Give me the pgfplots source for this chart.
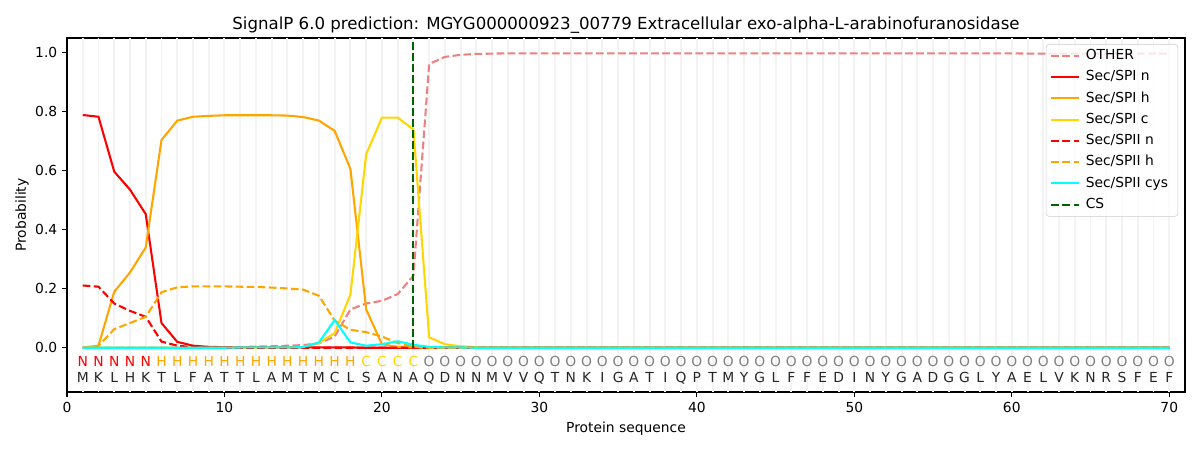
\documentclass[border=0pt]{standalone}
\usepackage{pgfplots}
\pgfplotsset{compat=1.18}
\usepackage{pgfplotstable}
\usepackage{fontspec}
\setmainfont{DejaVu Sans}
\definecolor{cother}{HTML}{F08080}
\definecolor{corange}{HTML}{FFA500}
\definecolor{cgold}{HTML}{FFD700}
\definecolor{ccyan}{HTML}{00FFFF}
\definecolor{cgreen}{HTML}{006400}
\definecolor{labN}{HTML}{FF0000}
\definecolor{labH}{HTML}{FFA500}
\definecolor{labC}{HTML}{FFD700}
\definecolor{labO}{HTML}{808080}
\definecolor{gridc}{HTML}{F3F3F3}
\pgfplotstableread{
x other spin spih spic spiin spiih cys
1 0.000 0.789 0.000 0.000 0.211 0.000 0.000
2 0.000 0.783 0.007 0.000 0.207 0.007 0.000
3 0.000 0.597 0.190 0.000 0.150 0.063 0.000
4 0.000 0.536 0.255 0.000 0.125 0.084 0.000
5 0.000 0.453 0.340 0.000 0.105 0.105 0.000
6 0.000 0.084 0.704 0.000 0.021 0.188 0.000
7 0.000 0.020 0.770 0.000 0.007 0.205 0.000
8 0.001 0.007 0.783 0.000 0.002 0.208 0.000
9 0.001 0.003 0.786 0.000 0.001 0.208 0.000
10 0.001 0.002 0.788 0.000 0.000 0.208 0.000
11 0.002 0.001 0.788 0.000 0.000 0.207 0.001
12 0.004 0.001 0.788 0.000 0.000 0.206 0.001
13 0.005 0.001 0.788 0.001 0.000 0.204 0.001
14 0.007 0.001 0.787 0.001 0.000 0.201 0.001
15 0.009 0.001 0.782 0.003 0.000 0.197 0.002
16 0.015 0.001 0.770 0.016 0.000 0.176 0.018
17 0.038 0.001 0.735 0.050 0.000 0.092 0.094
18 0.130 0.001 0.606 0.180 0.000 0.061 0.018
19 0.150 0.000 0.130 0.656 0.000 0.053 0.007
20 0.159 0.000 0.012 0.780 0.000 0.038 0.012
21 0.182 0.000 0.003 0.780 0.000 0.016 0.022
22 0.244 0.000 0.001 0.740 0.000 0.003 0.010
23 0.962 0.000 0.000 0.035 0.000 0.000 0.003
24 0.986 0.000 0.000 0.012 0.000 0.000 0.001
25 0.993 0.000 0.000 0.005 0.000 0.000 0.001
26 0.996 0.000 0.000 0.002 0.000 0.000 0.000
27 0.997 0 0 0 0 0 0
28 0.998 0 0 0 0 0 0
29 0.998 0 0 0 0 0 0
30 0.998 0 0 0 0 0 0
31 0.998 0 0 0 0 0 0
32 0.998 0 0 0 0 0 0
33 0.998 0 0 0 0 0 0
34 0.998 0 0 0 0 0 0
35 0.998 0 0 0 0 0 0
36 0.998 0 0 0 0 0 0
37 0.998 0 0 0 0 0 0
38 0.998 0 0 0 0 0 0
39 0.998 0 0 0 0 0 0
40 0.998 0 0 0 0 0 0
41 0.998 0 0 0 0 0 0
42 0.998 0 0 0 0 0 0
43 0.998 0 0 0 0 0 0
44 0.998 0 0 0 0 0 0
45 0.998 0 0 0 0 0 0
46 0.998 0 0 0 0 0 0
47 0.998 0 0 0 0 0 0
48 0.998 0 0 0 0 0 0
49 0.998 0 0 0 0 0 0
50 0.998 0 0 0 0 0 0
51 0.998 0 0 0 0 0 0
52 0.998 0 0 0 0 0 0
53 0.998 0 0 0 0 0 0
54 0.998 0 0 0 0 0 0
55 0.998 0 0 0 0 0 0
56 0.998 0 0 0 0 0 0
57 0.998 0 0 0 0 0 0
58 0.998 0 0 0 0 0 0
59 0.998 0 0 0 0 0 0
60 0.998 0 0 0 0 0 0
61 0.997 0 0 0 0 0 0
62 0.997 0 0 0 0 0 0
63 0.997 0 0 0 0 0 0
64 0.997 0 0 0 0 0 0
65 0.997 0 0 0 0 0 0
66 0.997 0 0 0 0 0 0
67 0.997 0 0 0 0 0 0
68 0.997 0 0 0 0 0 0
69 0.997 0 0 0 0 0 0
70 0.997 0 0 0 0 0 0
}\sigdata
\begin{document}
\begin{tikzpicture}
\path[use as bounding box] (-48.24bp,-41.76bp) rectangle (815.76bp,282.24bp);
\begin{axis}[
  at={(0,0)}, anchor=south west,
  scale only axis, width=804.96bp, height=254.88bp,
  xmin=0, xmax=71, ymin=-0.15, ymax=1.05,
  xtick={0,10,...,70},
  ytick={0,0.2,0.4,0.6,0.8,1.0},
  yticklabel style={/pgf/number format/.cd, fixed, fixed zerofill, precision=1},
  /pgf/number format/assume math mode=true,
  tick label style={font=\fontsize{10}{12}\selectfont},
  tick align=outside, xtick pos=left, ytick pos=left,
  major tick length=3.5bp,
  every tick/.style={black, line width=0.8bp},
  axis line style={line width=0.8bp},
  extra x ticks={1,...,70},
  extra x tick labels={},
  extra x tick style={grid=major, major grid style={gridc, line width=1.4bp}, major tick length=0pt},
  legend cell align=left,
  legend style={at={(rel axis cs:1,1)}, anchor=north east, xshift=-5bp, yshift=-4.3bp,
    draw=black!20, rounded corners=2bp, fill=white, fill opacity=0.8, text opacity=1,
    font=\fontsize{10}{12}\selectfont, inner xsep=3bp, inner ysep=3.5bp, row sep=5.5bp,
    nodes={text height=7.5bp, text depth=2.3bp, inner ysep=0pt, inner xsep=4bp}},
  legend image code/.code={\draw[#1] (0bp,0bp) -- (20bp,0bp);},
  every axis plot/.append style={line width=1.5bp},
]
\addplot[cother, dash pattern=on 5.55bp off 2.4bp] table[x=x,y=other]{\sigdata};
\addlegendentry{OTHER}
\addplot[red] table[x=x,y=spin]{\sigdata};
\addlegendentry{Sec/SPI n}
\addplot[corange] table[x=x,y=spih]{\sigdata};
\addlegendentry{Sec/SPI h}
\addplot[cgold] table[x=x,y=spic]{\sigdata};
\addlegendentry{Sec/SPI c}
\addplot[red, dash pattern=on 5.55bp off 2.4bp] table[x=x,y=spiin]{\sigdata};
\addlegendentry{Sec/SPII n}
\addplot[corange, dash pattern=on 5.55bp off 2.4bp] table[x=x,y=spiih]{\sigdata};
\addlegendentry{Sec/SPII h}
\addplot[ccyan] table[x=x,y=cys]{\sigdata};
\addlegendentry{Sec/SPII cys}
\addplot[cgreen, dash pattern=on 5.55bp off 2.4bp] coordinates {(22,0) (22,1.037)};
\addlegendentry{CS}
\foreach \i/\a/\b in {1/M/N,2/K/N,3/L/N,4/H/N,5/K/N,6/T/H,7/L/H,8/F/H,9/A/H,10/T/H,11/T/H,12/L/H,13/A/H,14/M/H,15/T/H,16/M/H,17/C/H,18/L/H,19/S/C,20/A/C,21/N/C,22/A/C,23/Q/O,24/D/O,25/N/O,26/N/O,27/M/O,28/V/O,29/V/O,30/Q/O,31/T/O,32/N/O,33/K/O,34/I/O,35/G/O,36/A/O,37/T/O,38/I/O,39/Q/O,40/P/O,41/T/O,42/M/O,43/Y/O,44/G/O,45/L/O,46/F/O,47/F/O,48/E/O,49/D/O,50/I/O,51/N/O,52/Y/O,53/G/O,54/A/O,55/D/O,56/G/O,57/G/O,58/L/O,59/Y/O,60/A/O,61/E/O,62/L/O,63/V/O,64/K/O,65/N/O,66/R/O,67/S/O,68/F/O,69/E/O,70/F/O}{
  \edef\temp{\noexpand\node[anchor=base, text=lab\b, font=\noexpand\fontsize{10}{12}\noexpand\selectfont] at (axis cs:\i,-0.064) {\b};
  \noexpand\node[anchor=base, text=black!85, font=\noexpand\fontsize{10}{12}\noexpand\selectfont] at (axis cs:\i,-0.119) {\a};}
  \temp
}
\end{axis}
\node[anchor=base, font=\fontsize{12}{14}\selectfont] at (402.48bp,260.88bp) {SignalP 6.0 prediction: MGYG000000923\_00779 Extracellular exo-alpha-L-arabinofuranosidase};
\node[anchor=base, font=\fontsize{10}{12}\selectfont] at (402.48bp,-29bp) {Protein sequence};
\node[anchor=base, rotate=90, font=\fontsize{10}{12}\selectfont] at (-29.7bp,127.44bp) {Probability};
\end{tikzpicture}
\end{document}
